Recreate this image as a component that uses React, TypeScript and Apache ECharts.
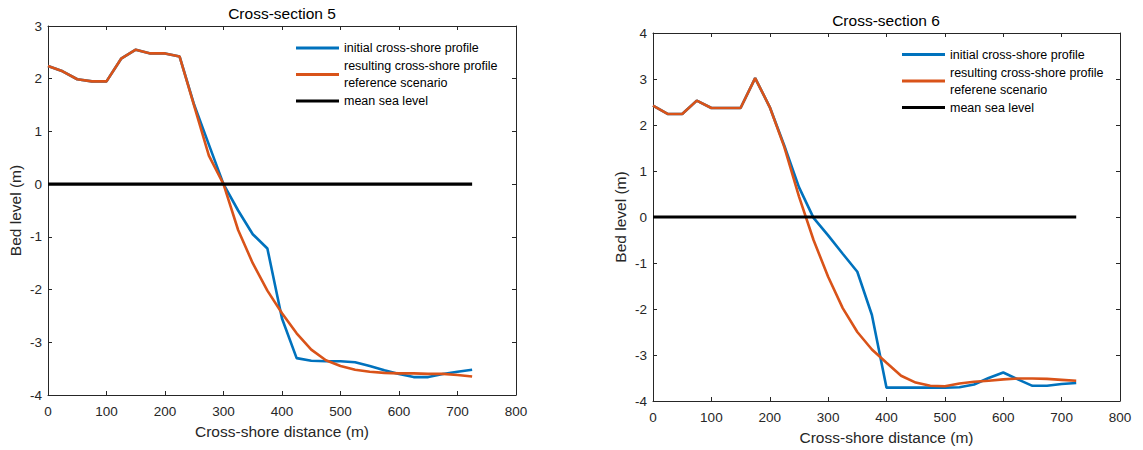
import React, { useEffect, useRef } from "react";
import * as echarts from "echarts";

// Cross-shore distance (m) of profile points
const distance = [0, 25, 50, 75, 100, 125, 150, 175, 200, 225, 250, 275, 300, 325, 350, 375, 400, 425, 450, 475, 500, 525, 550, 575, 600, 625, 650, 675, 700, 725];

// Cross-section 5
const initial5 = [2.24, 2.14, 1.99, 1.95, 1.95, 2.38, 2.55, 2.48, 2.48, 2.42, 1.5, 0.75, 0.0, -0.5, -0.95, -1.22, -2.55, -3.3, -3.35, -3.36, -3.36, -3.38, -3.45, -3.53, -3.6, -3.66, -3.66, -3.6, -3.56, -3.52];
const result5 = [2.24, 2.14, 1.99, 1.95, 1.95, 2.38, 2.55, 2.48, 2.48, 2.42, 1.48, 0.54, 0.0, -0.87, -1.5, -2.02, -2.45, -2.83, -3.14, -3.34, -3.45, -3.52, -3.56, -3.58, -3.59, -3.59, -3.6, -3.6, -3.62, -3.65];

// Cross-section 6
const initial6 = [2.42, 2.24, 2.24, 2.53, 2.37, 2.37, 2.37, 3.02, 2.39, 1.55, 0.65, -0.02, -0.4, -0.8, -1.19, -2.13, -3.71, -3.71, -3.71, -3.71, -3.71, -3.7, -3.64, -3.5, -3.38, -3.53, -3.67, -3.67, -3.63, -3.61];
const result6 = [2.42, 2.24, 2.24, 2.53, 2.37, 2.37, 2.37, 3.02, 2.39, 1.52, 0.45, -0.5, -1.3, -1.98, -2.5, -2.88, -3.17, -3.45, -3.6, -3.67, -3.68, -3.62, -3.58, -3.56, -3.53, -3.51, -3.51, -3.52, -3.54, -3.56];

// Mean sea level
const mslDistance = [0, 725];
const mslLevel = [0, 0];

const titles = ["Cross-section 5", "Cross-section 6"];
const nameInitial = "initial cross-shore profile";
const nameResult5 = "resulting cross-shore profile\nreference scenario";
const nameResult6 = "resulting cross-shore profile\nreferene scenario";
const nameMsl = "mean sea level";
const xName = "Cross-shore distance (m)";
const yName = "Bed level (m)";
const yRanges = [
  [-4, 3],
  [-4, 4],
];

const FONT = '"Liberation Sans", Arial, Helvetica, sans-serif';
const AXIS = "#262626";
const BLUE = "#0072BD";
const ORANGE = "#D95319";
const TICK_FS = 13.5;
const NAME_FS = 15.5;

const pairs = (xs: number[], ys: number[]) => xs.map((x, i) => [x, ys[i]]);

function xAxes(gridIndex: number) {
  const common = {
    type: "value",
    gridIndex,
    min: 0,
    max: 800,
    interval: 100,
    splitLine: { show: false },
    axisLine: { show: true, onZero: false, lineStyle: { color: AXIS, width: 1 } },
    axisTick: { show: true, inside: true, length: 4, lineStyle: { color: AXIS } },
  };
  return [
    {
      ...common,
      position: "bottom",
      axisLabel: { color: AXIS, fontSize: TICK_FS, margin: 9, fontFamily: FONT },
      name: xName,
      nameLocation: "middle",
      nameGap: 28,
      nameTextStyle: { color: AXIS, fontSize: NAME_FS, fontFamily: FONT },
    },
    { ...common, position: "top", axisLabel: { show: false } },
  ];
}

function yAxes(gridIndex: number, min: number, max: number) {
  const common = {
    type: "value",
    gridIndex,
    min,
    max,
    interval: 1,
    splitLine: { show: false },
    axisLine: { show: true, onZero: false, lineStyle: { color: AXIS, width: 1 } },
    axisTick: { show: true, inside: true, length: 4, lineStyle: { color: AXIS } },
  };
  return [
    {
      ...common,
      position: "left",
      axisLabel: { color: AXIS, fontSize: TICK_FS, margin: 6, fontFamily: FONT },
      name: yName,
      nameLocation: "middle",
      nameGap: 25,
      nameTextStyle: { color: AXIS, fontSize: NAME_FS, fontFamily: FONT },
    },
    { ...common, position: "right", axisLabel: { show: false } },
  ];
}

function lineSeries(name: string, data: number[][], axisIndex: number, color: string, width: number) {
  return {
    type: "line",
    name,
    data,
    xAxisIndex: axisIndex,
    yAxisIndex: axisIndex,
    symbol: "none",
    showSymbol: false,
    lineStyle: { color, width },
    itemStyle: { color },
  };
}

function legendFor(names: string[], left: number, top: number) {
  return {
    data: names,
    orient: "vertical",
    left,
    top,
    padding: 0,
    itemGap: 1,
    itemWidth: 43,
    itemHeight: 3,
    icon: "rect",
    selectedMode: false,
    textStyle: { color: "#000", fontSize: 12.5, lineHeight: 17, fontFamily: FONT },
  };
}

export default function App() {
  const ref = useRef<HTMLDivElement>(null);

  useEffect(() => {
    document.body.style.margin = "0";
    if (!ref.current) return;
    const chart = echarts.init(ref.current, undefined, { renderer: "svg" });
    const titleStyle = { fontSize: NAME_FS, fontWeight: "normal", color: "#000", fontFamily: FONT, lineHeight: 17 };
    const option = {
      animation: false,
      backgroundColor: "#fff",
      textStyle: { fontFamily: FONT },
      title: [
        { text: titles[0], left: 282, top: 4.5, textAlign: "center", padding: 0, textStyle: titleStyle },
        { text: titles[1], left: 886, top: 11.5, textAlign: "center", padding: 0, textStyle: titleStyle },
      ],
      legend: [
        legendFor([nameInitial, nameResult5, nameMsl], 296, 39.5),
        legendFor([nameInitial, nameResult6, nameMsl], 902, 46),
      ],
      grid: [
        { left: 48, top: 26, width: 468, height: 369, containLabel: false },
        { left: 653, top: 33, width: 467, height: 369, containLabel: false },
      ],
      xAxis: [...xAxes(0), ...xAxes(1)],
      yAxis: [...yAxes(0, yRanges[0][0], yRanges[0][1]), ...yAxes(1, yRanges[1][0], yRanges[1][1])],
      series: [
        lineSeries(nameInitial, pairs(distance, initial5), 0, BLUE, 2.6),
        lineSeries(nameResult5, pairs(distance, result5), 0, ORANGE, 2.6),
        lineSeries(nameMsl, pairs(mslDistance, mslLevel), 0, "#000", 3.2),
        lineSeries(nameInitial, pairs(distance, initial6), 2, BLUE, 2.6),
        lineSeries(nameResult6, pairs(distance, result6), 2, ORANGE, 2.6),
        lineSeries(nameMsl, pairs(mslDistance, mslLevel), 2, "#000", 3.2),
      ],
    };
    chart.setOption(option as any);
    return () => chart.dispose();
  }, []);

  return <div ref={ref} style={{ width: 1143, height: 450 }} />;
}
